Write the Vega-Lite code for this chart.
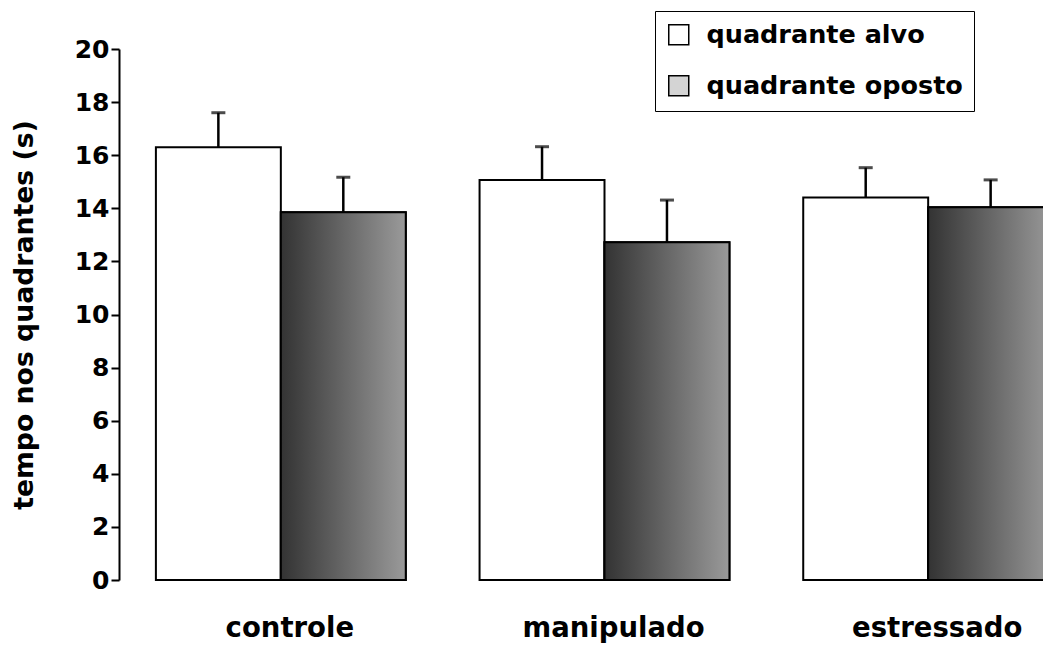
{
  "$schema": "https://vega.github.io/schema/vega-lite/v6.json",
  "autosize": {"type": "none"},
  "padding": {"left": 119, "top": 49, "right": 0, "bottom": 66},
  "width": 924,
  "height": 531,
  "background": "white",
  "data": {
    "values": [
      {"grupo": "controle", "quadrante": "quadrante alvo", "tempo": 16.3, "superior": 17.6},
      {"grupo": "controle", "quadrante": "quadrante oposto", "tempo": 13.85, "superior": 15.17},
      {"grupo": "manipulado", "quadrante": "quadrante alvo", "tempo": 15.07, "superior": 16.32},
      {"grupo": "manipulado", "quadrante": "quadrante oposto", "tempo": 12.72, "superior": 14.31},
      {"grupo": "estressado", "quadrante": "quadrante alvo", "tempo": 14.41, "superior": 15.53},
      {"grupo": "estressado", "quadrante": "quadrante oposto", "tempo": 14.04, "superior": 15.07}
    ]
  },
  "encoding": {
    "x": {
      "field": "grupo", "type": "nominal",
      "sort": ["controle", "manipulado", "estressado"],
      "scale": {"range": [0, 971], "paddingInner": 0.228, "paddingOuter": 0.114},
      "axis": {
        "title": null, "domain": false, "ticks": false, "labelAngle": 0,
        "labelFont": "DejaVu Sans", "labelFontWeight": "bold", "labelFontSize": 27.5,
        "labelColor": "black", "labelPadding": 34, "labelOffset": 9, "labelLimit": 400
      }
    },
    "xOffset": {
      "field": "quadrante", "type": "nominal",
      "scale": {"domain": ["quadrante alvo", "quadrante oposto"], "paddingInner": 0, "paddingOuter": 0}
    }
  },
  "layer": [
    {
      "mark": {"type": "bar", "stroke": "black", "strokeWidth": 2},
      "encoding": {
        "y": {
          "field": "tempo", "type": "quantitative",
          "scale": {"domain": [0, 20], "nice": false},
          "axis": {
            "title": "tempo nos quadrantes (s)",
            "values": [0, 2, 4, 6, 8, 10, 12, 14, 16, 18, 20],
            "grid": false,
            "domainColor": "black", "domainWidth": 2,
            "tickColor": "black", "tickWidth": 2, "tickSize": 8,
            "labelFont": "DejaVu Sans", "labelFontWeight": "bold", "labelFontSize": 25,
            "labelColor": "black", "labelPadding": 2,
            "titleFont": "DejaVu Sans", "titleFontWeight": "bold", "titleFontSize": 26.7,
            "titleColor": "black", "titlePadding": 36
          }
        },
        "color": {
          "field": "quadrante", "type": "nominal",
          "scale": {"domain": ["quadrante alvo", "quadrante oposto"], "range": ["white", "#d4d4d4"]},
          "legend": {
            "title": null,
            "orient": "none",
            "legendX": 536,
            "legendY": -38,
            "direction": "vertical",
            "strokeColor": "black",
            "fillColor": "white",
            "padding": 11,
            "symbolType": "square",
            "symbolSize": 400,
            "symbolStrokeColor": "black",
            "symbolStrokeWidth": 1.5,
            "symbolOpacity": 1,
            "labelFont": "DejaVu Sans",
            "labelFontWeight": "bold",
            "labelFontSize": 25.5,
            "labelColor": "black",
            "labelOffset": 15,
            "labelLimit": 400,
            "rowPadding": 23
          }
        }
      }
    },
    {
      "transform": [{"filter": "datum.quadrante === 'quadrante oposto'"}],
      "mark": {
        "type": "bar", "stroke": "black", "strokeWidth": 2,
        "fill": {
          "gradient": "linear", "x1": 0, "x2": 1, "y1": 0, "y2": 0,
          "stops": [
            {"offset": 0, "color": "#333333"},
            {"offset": 1, "color": "#9a9a9a"}
          ]
        }
      },
      "encoding": {
        "y": {"field": "tempo", "type": "quantitative"}
      }
    },
    {
      "mark": {"type": "rule", "color": "black", "strokeWidth": 2.5},
      "encoding": {
        "y": {"field": "tempo", "type": "quantitative"},
        "y2": {"field": "superior"}
      }
    },
    {
      "mark": {"type": "tick", "color": "black", "thickness": 3, "size": 14, "orient": "horizontal"},
      "encoding": {
        "y": {"field": "superior", "type": "quantitative"}
      }
    }
  ],
  "config": {
    "view": {"stroke": null}
  }
}
